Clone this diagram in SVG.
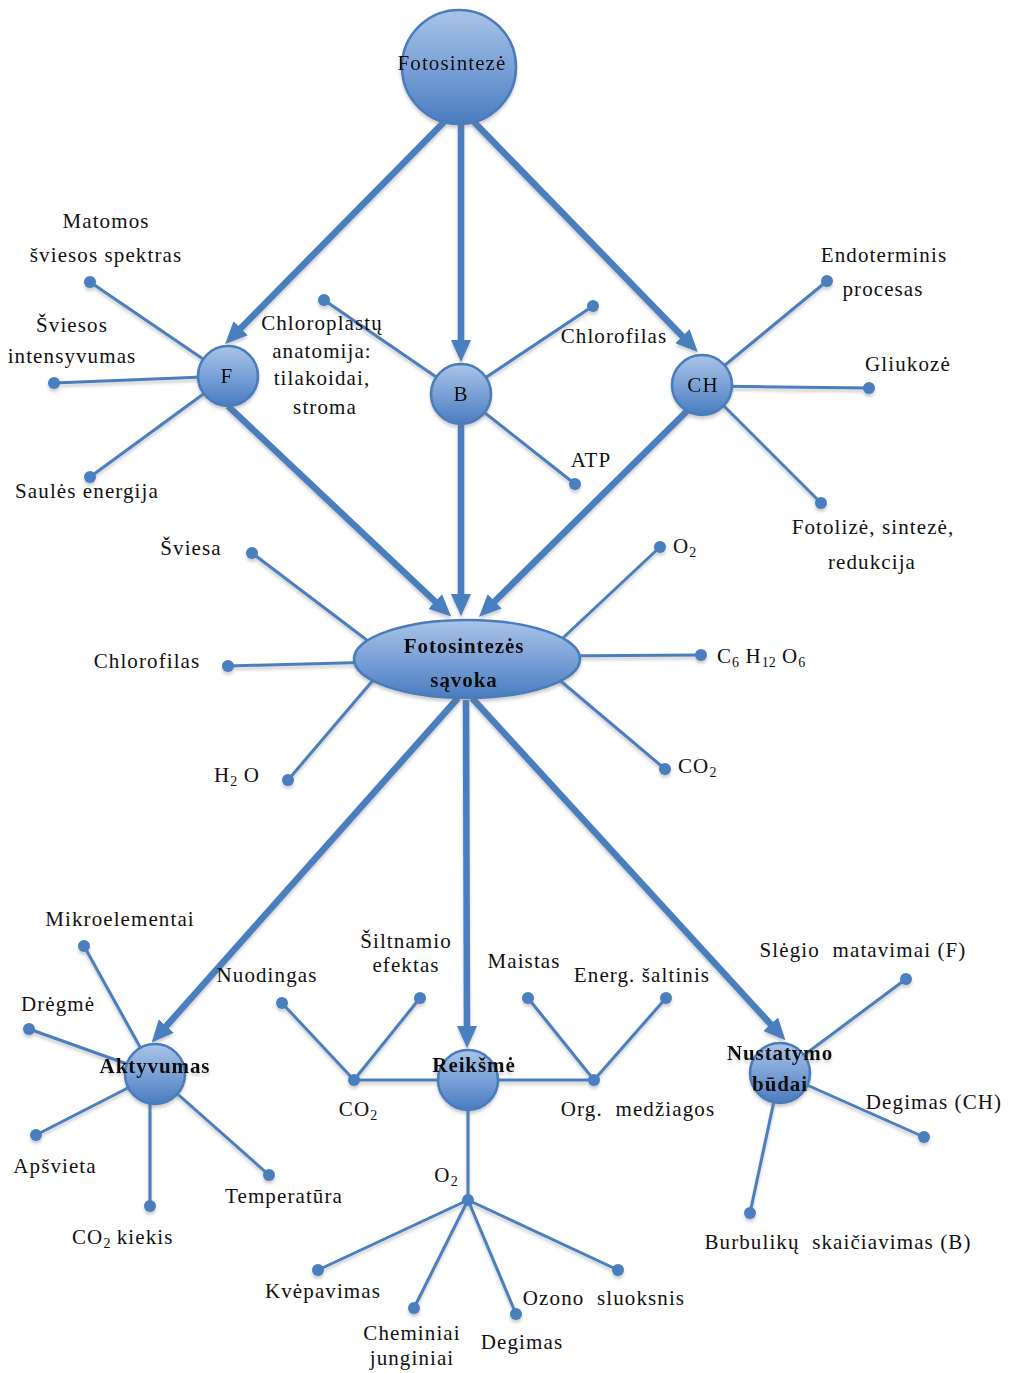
<svg xmlns="http://www.w3.org/2000/svg" width="1011" height="1373" viewBox="0 0 1011 1373">
<defs>
<style>
.t{font-family:"Liberation Serif","Times New Roman",serif;font-size:21px;fill:#111;text-anchor:middle;letter-spacing:1.1px}
.b{font-weight:bold;letter-spacing:0.9px}
.s{font-size:14px;letter-spacing:0}
.thick{stroke:#4a7ebf;stroke-width:6.5;fill:none;marker-end:url(#ah)}
.thin{stroke:#4a7ebf;stroke-width:3;fill:none}
.dot{fill:#4a7ebf}
.node{fill:url(#g);stroke:#4a7bbb;stroke-width:2.5}
</style>
<linearGradient id="g" x1="0" y1="0" x2="0" y2="1">
<stop offset="0" stop-color="#a9c4e8"/>
<stop offset="0.5" stop-color="#7aa1d6"/>
<stop offset="1" stop-color="#4a7cc0"/>
</linearGradient>
<marker id="ah" viewBox="0 0 22 20" markerWidth="22" markerHeight="20" refX="8" refY="10" orient="auto" markerUnits="userSpaceOnUse">
<path d="M0,0 L22,10 L0,20 z" fill="#4a7ebf"/>
</marker>
<filter id="sh" x="-10%" y="-10%" width="120%" height="130%">
<feDropShadow dx="0" dy="3" stdDeviation="1.5" flood-color="#777" flood-opacity="0.35"/>
</filter>
</defs>
<rect width="1011" height="1373" fill="#fff"/>

<g id="connectors" filter="url(#sh)">
<line class="thick" x1="444" y1="122" x2="235" y2="334"/>
<line class="thick" x1="461" y1="125" x2="461" y2="348"/>
<line class="thick" x1="474" y1="122" x2="688" y2="342"/>
<line class="thick" x1="228" y1="406" x2="441" y2="607"/>
<line class="thick" x1="461" y1="425" x2="461" y2="602"/>
<line class="thick" x1="688" y1="410" x2="489" y2="607"/>
<line class="thick" x1="458" y1="698" x2="161" y2="1032"/>
<line class="thick" x1="466" y1="700" x2="467" y2="1034"/>
<line class="thick" x1="472" y1="698" x2="776" y2="1030"/>
<line class="thin" x1="228" y1="376" x2="90" y2="282"/>
<line class="thin" x1="228" y1="376" x2="54" y2="383"/>
<line class="thin" x1="228" y1="376" x2="90" y2="477"/>
<line class="thin" x1="461" y1="394" x2="324" y2="300"/>
<line class="thin" x1="461" y1="394" x2="593" y2="306"/>
<line class="thin" x1="461" y1="394" x2="575" y2="484"/>
<line class="thin" x1="702" y1="384" x2="827" y2="281"/>
<line class="thin" x1="702" y1="386" x2="869" y2="388"/>
<line class="thin" x1="702" y1="384" x2="821" y2="503"/>
<line class="thin" x1="380" y1="650" x2="252" y2="553"/>
<line class="thin" x1="380" y1="662" x2="228" y2="666"/>
<line class="thin" x1="380" y1="672" x2="288" y2="780"/>
<line class="thin" x1="550" y1="650" x2="660" y2="547"/>
<line class="thin" x1="550" y1="656" x2="701" y2="655"/>
<line class="thin" x1="550" y1="672" x2="665" y2="769"/>
<line class="thin" x1="155" y1="1074" x2="84" y2="946"/>
<line class="thin" x1="155" y1="1074" x2="29" y2="1029"/>
<line class="thin" x1="155" y1="1074" x2="36" y2="1135"/>
<line class="thin" x1="150" y1="1074" x2="150" y2="1206"/>
<line class="thin" x1="155" y1="1074" x2="269" y2="1175"/>
<line class="thin" x1="354" y1="1080" x2="594" y2="1080"/>
<line class="thin" x1="354" y1="1080" x2="282" y2="1003"/>
<line class="thin" x1="354" y1="1080" x2="420" y2="998"/>
<line class="thin" x1="594" y1="1080" x2="528" y2="998"/>
<line class="thin" x1="594" y1="1080" x2="666" y2="998"/>
<line class="thin" x1="468" y1="1080" x2="468" y2="1200"/>
<line class="thin" x1="468" y1="1200" x2="318" y2="1270"/>
<line class="thin" x1="468" y1="1200" x2="414" y2="1308"/>
<line class="thin" x1="468" y1="1200" x2="516" y2="1314"/>
<line class="thin" x1="468" y1="1200" x2="618" y2="1270"/>
<line class="thin" x1="780" y1="1073" x2="906" y2="979"/>
<line class="thin" x1="780" y1="1073" x2="924" y2="1137"/>
<line class="thin" x1="780" y1="1073" x2="750" y2="1213"/>
<circle class="dot" cx="90" cy="282" r="6"/>
<circle class="dot" cx="54" cy="383" r="6"/>
<circle class="dot" cx="90" cy="477" r="6"/>
<circle class="dot" cx="324" cy="300" r="6"/>
<circle class="dot" cx="593" cy="306" r="6"/>
<circle class="dot" cx="575" cy="484" r="6"/>
<circle class="dot" cx="827" cy="281" r="6"/>
<circle class="dot" cx="869" cy="388" r="6"/>
<circle class="dot" cx="821" cy="503" r="6"/>
<circle class="dot" cx="252" cy="553" r="6"/>
<circle class="dot" cx="228" cy="666" r="6"/>
<circle class="dot" cx="288" cy="780" r="6"/>
<circle class="dot" cx="660" cy="547" r="6"/>
<circle class="dot" cx="701" cy="655" r="6"/>
<circle class="dot" cx="665" cy="769" r="6"/>
<circle class="dot" cx="84" cy="946" r="6"/>
<circle class="dot" cx="29" cy="1029" r="6"/>
<circle class="dot" cx="36" cy="1135" r="6"/>
<circle class="dot" cx="150" cy="1206" r="6"/>
<circle class="dot" cx="269" cy="1175" r="6"/>
<circle class="dot" cx="354" cy="1080" r="6"/>
<circle class="dot" cx="282" cy="1003" r="6"/>
<circle class="dot" cx="420" cy="998" r="6"/>
<circle class="dot" cx="594" cy="1080" r="6"/>
<circle class="dot" cx="528" cy="998" r="6"/>
<circle class="dot" cx="666" cy="998" r="6"/>
<circle class="dot" cx="468" cy="1200" r="6"/>
<circle class="dot" cx="318" cy="1270" r="6"/>
<circle class="dot" cx="414" cy="1308" r="6"/>
<circle class="dot" cx="516" cy="1314" r="6"/>
<circle class="dot" cx="618" cy="1270" r="6"/>
<circle class="dot" cx="906" cy="979" r="6"/>
<circle class="dot" cx="924" cy="1137" r="6"/>
<circle class="dot" cx="750" cy="1213" r="6"/>
</g>

<g id="node-fotosinteze" filter="url(#sh)">
<circle class="node" cx="459" cy="67" r="57"/>
<text class="t" x="452" y="70">Fotosintezė</text>
</g>
<g id="node-F" filter="url(#sh)">
<circle class="node" cx="228" cy="376" r="30"/>
<text class="t" x="227" y="383">F</text>
</g>
<g id="node-B" filter="url(#sh)">
<circle class="node" cx="461" cy="394" r="30"/>
<text class="t" x="461" y="401">B</text>
</g>
<g id="node-CH" filter="url(#sh)">
<circle class="node" cx="702" cy="385" r="30"/>
<text class="t" x="703" y="392">CH</text>
</g>
<g id="node-savoka" filter="url(#sh)">
<ellipse class="node" cx="467" cy="659" rx="113" ry="39"/>
<text class="t b" x="464" y="653">Fotosintezės</text>
<text class="t b" x="464" y="687">sąvoka</text>
</g>
<g id="node-aktyvumas" filter="url(#sh)">
<circle class="node" cx="155" cy="1074" r="30"/>
<text class="t b" x="155" y="1073">Aktyvumas</text>
</g>
<g id="node-reiksme" filter="url(#sh)">
<circle class="node" cx="468" cy="1080" r="30"/>
<text class="t b" x="474" y="1072">Reikšmė</text>
</g>
<g id="node-nustatymo" filter="url(#sh)">
<circle class="node" cx="780" cy="1073" r="30"/>
<text class="t b" x="780" y="1060">Nustatymo</text>
<text class="t b" x="780" y="1091">būdai</text>
</g>

<g id="labels">
<text class="t" x="106" y="228">Matomos</text>
<text class="t" x="106" y="262">šviesos spektras</text>
<text class="t" x="72" y="332">Šviesos</text>
<text class="t" x="72" y="363">intensyvumas</text>
<text class="t" x="87" y="498">Saulės energija</text>
<text class="t" x="322" y="330">Chloroplastų</text>
<text class="t" x="322" y="358">anatomija:</text>
<text class="t" x="322" y="385">tilakoidai,</text>
<text class="t" x="325" y="414">stroma</text>
<text class="t" x="614" y="343">Chlorofilas</text>
<text class="t" x="591" y="467">ATP</text>
<text class="t" x="884" y="262">Endoterminis</text>
<text class="t" x="883" y="296">procesas</text>
<text class="t" x="908" y="371">Gliukozė</text>
<text class="t" x="873" y="534">Fotolizė, sintezė,</text>
<text class="t" x="872" y="569">redukcija</text>
<text class="t" x="191" y="555">Šviesa</text>
<text class="t" x="147" y="668">Chlorofilas</text>
<text class="t" x="237" y="782">H<tspan class="s" dy="4">2</tspan><tspan dy="-4"> O</tspan></text>
<text class="t" x="673" y="553" style="text-anchor:start">O<tspan class="s" dy="4">2</tspan></text>
<text class="t" x="717" y="663" style="text-anchor:start">C<tspan class="s" dy="4">6</tspan><tspan dy="-4"> H</tspan><tspan class="s" dy="4">12</tspan><tspan dy="-4"> O</tspan><tspan class="s" dy="4">6</tspan></text>
<text class="t" x="678" y="773" style="text-anchor:start">CO<tspan class="s" dy="4">2</tspan></text>
<text class="t" x="120" y="926">Mikroelementai</text>
<text class="t" x="58" y="1011">Drėgmė</text>
<text class="t" x="55" y="1173">Apšvieta</text>
<text class="t" x="72" y="1244" style="text-anchor:start">CO<tspan class="s" dy="4">2</tspan><tspan dy="-4"> kiekis</tspan></text>
<text class="t" x="284" y="1203">Temperatūra</text>
<text class="t" x="267" y="982">Nuodingas</text>
<text class="t" x="406" y="948">Šiltnamio</text>
<text class="t" x="406" y="972">efektas</text>
<text class="t" x="524" y="968">Maistas</text>
<text class="t" x="642" y="982">Energ. šaltinis</text>
<text class="t" x="358" y="1116">CO<tspan class="s" dy="4">2</tspan></text>
<text class="t" x="638" y="1116">Org.&#160; medžiagos</text>
<text class="t" x="446" y="1182">O<tspan class="s" dy="4">2</tspan></text>
<text class="t" x="323" y="1298">Kvėpavimas</text>
<text class="t" x="412" y="1340">Cheminiai</text>
<text class="t" x="412" y="1365">junginiai</text>
<text class="t" x="522" y="1349">Degimas</text>
<text class="t" x="604" y="1305">Ozono&#160; sluoksnis</text>
<text class="t" x="863" y="957">Slėgio&#160; matavimai (F)</text>
<text class="t" x="934" y="1109">Degimas (CH)</text>
<text class="t" x="838" y="1249">Burbulikų&#160; skaičiavimas (B)</text>
</g>
</svg>
